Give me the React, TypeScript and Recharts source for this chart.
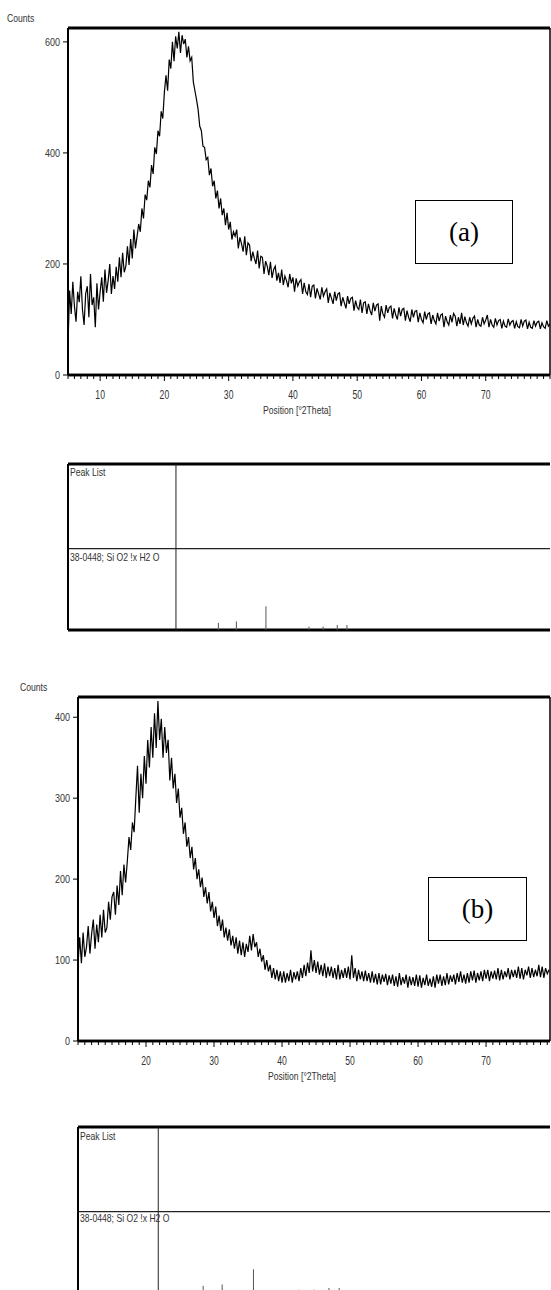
import { LineChart, Line, XAxis, YAxis, ReferenceLine } from "recharts";

const FONT = "'Liberation Sans Narrow', 'Arial Narrow', 'Liberation Sans', Arial, sans-serif";
const INK = "#000";
const TEXT = "#333";

// step of the scans, in °2Theta
const STEP = 0.25;

// pattern (a): 5 – 80 °2Theta
const startA = 5;
const countsA = [
  55,
  152, 110, 168, 124, // 5
  96, 150, 131, 178,
  118, 90, 146, 160,
  104, 182, 126, 140,
  86, 165, 118, 150,
  176, 132, 190, 148, // 10
  170, 200, 146, 178,
  155, 195, 168, 212,
  176, 220, 185, 196,
  232, 198, 245, 210,
  262, 228, 250, 272, // 15
  258, 300, 282, 325,
  315, 350, 338, 378,
  362, 410, 398, 440,
  430, 475, 462, 510,
  540, 512, 568, 552, // 20
  600, 565, 610, 588,
  618, 580, 612, 596,
  605, 572, 592, 566,
  572, 528, 512, 496,
  478, 448, 440, 412, // 25
  410, 388, 392, 360,
  372, 340, 350, 318,
  332, 300, 318, 288,
  300, 270, 292, 262,
  276, 244, 258, 250, // 30
  262, 228, 248, 236,
  222, 250, 216, 238,
  234, 205, 222, 210,
  200, 224, 192, 214,
  212, 182, 205, 196, // 35
  180, 204, 175, 190,
  196, 170, 184, 166,
  190, 162, 178, 170,
  158, 182, 165, 176,
  150, 174, 160, 168, // 40
  172, 146, 166, 150,
  145, 164, 140, 160,
  162, 138, 156, 146,
  136, 158, 142, 150,
  155, 130, 148, 138, // 45
  128, 150, 134, 146,
  148, 124, 140, 130,
  120, 142, 128, 138,
  140, 116, 134, 122,
  118, 136, 112, 130, // 50
  132, 110, 128, 116,
  108, 130, 115, 126,
  128, 98, 124, 110,
  104, 126, 112, 122,
  124, 102, 120, 108, // 55
  100, 122, 106, 118,
  120, 98, 116, 104,
  96, 118, 104, 115,
  116, 95, 112, 100,
  94, 114, 100, 110, // 60
  112, 92, 108, 98,
  92, 112, 97, 108,
  110, 86, 106, 96,
  90, 108, 95, 111,
  106, 88, 104, 92, // 65
  112, 90, 105, 94,
  88, 104, 92, 102,
  106, 86, 100, 90,
  88, 104, 92, 99,
  108, 86, 100, 90, // 70
  86, 102, 90, 98,
  100, 84, 97, 88,
  86, 101, 90, 96,
  98, 84, 96, 87,
  85, 100, 88, 97, // 75
  99, 83, 95, 86,
  84, 98, 88, 95,
  97, 83, 94, 87,
  84, 98, 88, 92,
];
const labelsA = [10, 20, 30, 40, 50, 60, 70];
const minorA = [
  5, 6, 7, 8, 9, 10, 11, 12, 13, 14, 15, 16, 17, 18, 19, 20, 21, 22, 23, 24, 25, 26, 27, 28, 29, 30, 31, 32,
  33, 34, 35, 36, 37, 38, 39, 40, 41, 42, 43, 44, 45, 46, 47, 48, 49, 50, 51, 52, 53, 54, 55, 56, 57, 58, 59,
  60, 61, 62, 63, 64, 65, 66, 67, 68, 69, 70, 71, 72, 73, 74, 75, 76, 77, 78, 79, 80,
];
const yTicksA = [0, 200, 400, 600];

// pattern (b): 10 – 79.25 °2Theta
const startB = 10;
const countsB = [
  95,
  128, 96, 134, 104, // 10
  116, 142, 108, 132,
  150, 114, 144, 122,
  156, 128, 162, 134,
  140, 172, 150, 178,
  184, 156, 192, 168, // 15
  210, 180, 218, 196,
  222, 252, 236, 270,
  258, 300, 340, 282,
  330, 300, 352, 318,
  372, 338, 388, 350, // 20
  405, 362, 420, 372,
  398, 350, 388, 356,
  372, 322, 350, 312,
  330, 294, 312, 276,
  288, 256, 270, 240, // 25
  252, 226, 240, 212,
  226, 200, 212, 190,
  202, 178, 190, 170,
  184, 160, 172, 152,
  166, 142, 155, 136, // 30
  150, 128, 140, 124,
  138, 118, 130, 114,
  128, 108, 124, 106,
  122, 104, 120, 110,
  130, 112, 132, 116, // 35
  122, 104, 114, 98,
  106, 88, 100, 86,
  94, 78, 90, 76,
  88, 74, 86, 72,
  86, 72, 84, 74, // 40
  88, 72, 85, 76,
  86, 74, 90, 78,
  94, 80, 97, 84,
  112, 86, 100, 84,
  98, 82, 94, 80, // 45
  96, 78, 92, 80,
  92, 78, 90, 76,
  94, 76, 88, 78,
  90, 78, 92, 76,
  106, 78, 90, 74, // 50
  88, 76, 86, 74,
  87, 74, 84, 72,
  86, 72, 83, 70,
  84, 70, 82, 73,
  83, 69, 81, 71, // 55
  82, 68, 80, 67,
  84, 69, 79, 71,
  82, 66, 80, 69,
  79, 68, 82, 67,
  81, 66, 78, 69, // 60
  82, 68, 77, 67,
  80, 66, 82, 71,
  82, 68, 80, 69,
  84, 70, 81, 73,
  82, 70, 84, 73, // 65
  86, 72, 82, 71,
  84, 72, 86, 75,
  87, 72, 84, 75,
  86, 74, 88, 77,
  88, 74, 86, 77, // 70
  87, 76, 90, 75,
  88, 76, 86, 79,
  90, 76, 88, 79,
  88, 78, 92, 77,
  90, 76, 88, 81, // 75
  92, 78, 90, 79,
  88, 80, 94, 79,
  92, 78, 90, 83,
  88,
];
const labelsB = [20, 30, 40, 50, 60, 70];
const minorB = [
  10, 11, 12, 13, 14, 15, 16, 17, 18, 19, 20, 21, 22, 23, 24, 25, 26, 27, 28, 29, 30, 31, 32, 33, 34, 35, 36,
  37, 38, 39, 40, 41, 42, 43, 44, 45, 46, 47, 48, 49, 50, 51, 52, 53, 54, 55, 56, 57, 58, 59, 60, 61, 62, 63,
  64, 65, 66, 67, 68, 69, 70, 71, 72, 73, 74, 75, 76, 77, 78, 79,
];
const yTicksB = [0, 100, 200, 300, 400];

// reference card 38-0448 and the peak list
const peakPos = [28.4, 31.2, 35.8, 42.5, 44.7, 46.9, 48.4];
const peakInt = [30, 36, 100, 14, 14, 21, 21];
const peakListMark = 21.8;
const PANEL_MAX = 700;
const ROW_SPLIT = 343;

const toRows = (start: number, counts: number[]) =>
  counts.map((c, i) => ({ theta: start + i * STEP, counts: c }));

const rowsA = toRows(startA, countsA);
const rowsB = toRows(startB, countsB);
const peakRows = peakPos.map((p, i) => ({ pos: p, rel: peakInt[i] }));

const makeXTick = (labels: number[]) => (props: any) => {
  const { x, y, payload } = props;
  const major = labels.includes(payload.value);
  const s = String(payload.value);
  return (
    <g>
      <line x1={x} x2={x} y1={y} y2={y + (major ? 6 : 4)} stroke={INK} strokeWidth={1} />
      {major && (
        <text x={x} y={y + 24} textAnchor="middle" fontSize={13} fill={TEXT} fontFamily={FONT} textLength={s.length * 4.8} lengthAdjust="spacingAndGlyphs">
          {s}
        </text>
      )}
    </g>
  );
};

const YTick = (props: any) => {
  const { x, y, payload } = props;
  const s = String(payload.value);
  return (
    <text x={x} y={y + 4} textAnchor="end" fontSize={11} fill={TEXT} fontFamily={FONT} textLength={s.length * 5} lengthAdjust="spacingAndGlyphs">
      {s}
    </text>
  );
};

const axisTitle = (offset: number) => (props: any) => {
  const vb = props.viewBox;
  return (
    <text
      x={vb.x + vb.width / 2 - 12}
      y={vb.y + vb.height - offset}
      textAnchor="middle"
      fontSize={11}
      fill={TEXT}
      fontFamily={FONT}
      textLength={68}
      lengthAdjust="spacingAndGlyphs"
    >
      Position [°2Theta]
    </text>
  );
};

type PatternProps = {
  top: number;
  height: number;
  marginTop: number;
  yWidth: number;
  axisH: number;
  labelOffset: number;
  rows: { theta: number; counts: number }[];
  xDomain: [number, number];
  minor: number[];
  labels: number[];
  yDomain: [number, number];
  yTicks: number[];
};

const Pattern = ({ top, height, marginTop, yWidth, axisH, labelOffset, rows, xDomain, minor, labels, yDomain, yTicks }: PatternProps) => (
  <div style={{ position: "absolute", left: 0, top }}>
    <LineChart width={551} height={height} data={rows} margin={{ top: marginTop, right: 1, bottom: 0, left: 0 }}>
      <XAxis
        xAxisId="main"
        type="number"
        dataKey="theta"
        domain={xDomain}
        allowDataOverflow
        ticks={minor}
        interval={0}
        height={axisH}
        tickSize={0}
        tickMargin={0}
        tick={makeXTick(labels)}
        tickLine={false}
        axisLine={{ stroke: INK, strokeWidth: 2.5 }}
        label={{ value: "Position [°2Theta]", content: axisTitle(labelOffset) }}
      />
      <YAxis
        yAxisId="l"
        width={yWidth}
        domain={yDomain}
        allowDataOverflow
        ticks={yTicks}
        interval={0}
        tickSize={5}
        tickMargin={3}
        axisLine={{ stroke: INK, strokeWidth: 2 }}
        tickLine={{ stroke: INK }}
        tick={YTick}
      />
      <Line
        xAxisId="main"
        yAxisId="l"
        type="linear"
        dataKey="counts"
        stroke="#000"
        strokeWidth={1.2}
        dot={false}
        isAnimationActive={false}
      />
      {/* frame of the plot */}
      <ReferenceLine xAxisId="main" yAxisId="l" y={yDomain[1]} stroke={INK} strokeWidth={3} />
      <ReferenceLine xAxisId="main" yAxisId="l" y={yDomain[0]} stroke={INK} strokeWidth={2.5} />
      <ReferenceLine xAxisId="main" yAxisId="l" x={xDomain[1]} stroke={INK} strokeWidth={1.5} />
    </LineChart>
  </div>
);

type PanelProps = { top: number; plotH: number; yWidth: number; xDomain: [number, number] };

const PeakPanel = ({ top, plotH, yWidth, xDomain }: PanelProps) => (
  <div style={{ position: "absolute", left: 0, top }}>
    <LineChart width={551} height={plotH + 6} data={peakRows} margin={{ top: 3, right: 1, bottom: 3, left: 0 }}>
      <XAxis xAxisId="main" type="number" dataKey="pos" domain={xDomain} allowDataOverflow height={1} tick={false} tickLine={false} axisLine={false} />
      <YAxis yAxisId="l" width={yWidth} domain={[0, PANEL_MAX]} allowDataOverflow tick={false} tickLine={false} axisLine={{ stroke: INK, strokeWidth: 2 }} />
      <ReferenceLine xAxisId="main" yAxisId="l" y={PANEL_MAX} stroke={INK} strokeWidth={3} />
      <ReferenceLine xAxisId="main" yAxisId="l" y={0} stroke={INK} strokeWidth={3} />
      <ReferenceLine xAxisId="main" yAxisId="l" y={ROW_SPLIT} stroke="#222" strokeWidth={1.2} />
      <ReferenceLine xAxisId="main" yAxisId="l" x={peakListMark} stroke="#222" strokeWidth={1} />
      {peakRows.map((p, i) => (
        <ReferenceLine
          key={i}
          xAxisId="main"
          yAxisId="l"
          segment={[{ x: p.pos, y: 0 }, { x: p.pos, y: p.rel }]}
          stroke="#555"
          strokeWidth={1}
        />
      ))}
    </LineChart>
  </div>
);

const small = {
  position: "absolute" as const,
  fontFamily: FONT,
  fontSize: 10.5,
  color: TEXT,
  lineHeight: "12px",
  whiteSpace: "nowrap" as const,
  transform: "scaleX(0.82)",
  transformOrigin: "left top",
};
const tagBox = {
  position: "absolute" as const,
  border: "1.5px solid #000",
  background: "#fff",
  display: "flex",
  alignItems: "center",
  justifyContent: "center",
  fontFamily: "'Liberation Serif', 'Times New Roman', serif",
  fontSize: 27,
  color: "#000",
  boxSizing: "border-box" as const,
};

export default function App() {
  return (
    <div style={{ position: "absolute", left: 0, top: 0, width: 551, height: 1290, overflow: "hidden", background: "#fff" }}>
      <div style={{ ...small, left: 7, top: 12 }}>Counts</div>
      <Pattern
        top={0}
        height={420}
        marginTop={28}
        yWidth={68}
        axisH={45}
        labelOffset={6}
        rows={rowsA}
        xDomain={[5, 80]}
        minor={minorA}
        labels={labelsA}
        yDomain={[0, 625]}
        yTicks={yTicksA}
      />
      <div style={{ ...tagBox, left: 415, top: 200, width: 98, height: 64 }}>(a)</div>

      <PeakPanel top={461} plotH={167} yWidth={68} xDomain={[5, 80]} />
      <div style={{ ...small, left: 70, top: 466 }}>Peak List</div>
      <div style={{ ...small, left: 70, top: 551 }}>38-0448; Si O2 !x H2 O</div>

      <div style={{ ...small, left: 20, top: 681 }}>Counts</div>
      <Pattern
        top={660}
        height={430}
        marginTop={37}
        yWidth={78}
        axisH={49}
        labelOffset={10}
        rows={rowsB}
        xDomain={[10, 79.4]}
        minor={minorB}
        labels={labelsB}
        yDomain={[0, 425]}
        yTicks={yTicksB}
      />
      <div style={{ ...tagBox, left: 428, top: 877, width: 99, height: 64 }}>(b)</div>

      <PeakPanel top={1124} plotH={167} yWidth={78} xDomain={[10, 79.4]} />
      <div style={{ ...small, left: 80, top: 1130 }}>Peak List</div>
      <div style={{ ...small, left: 80, top: 1212 }}>38-0448; Si O2 !x H2 O</div>
    </div>
  );
}
